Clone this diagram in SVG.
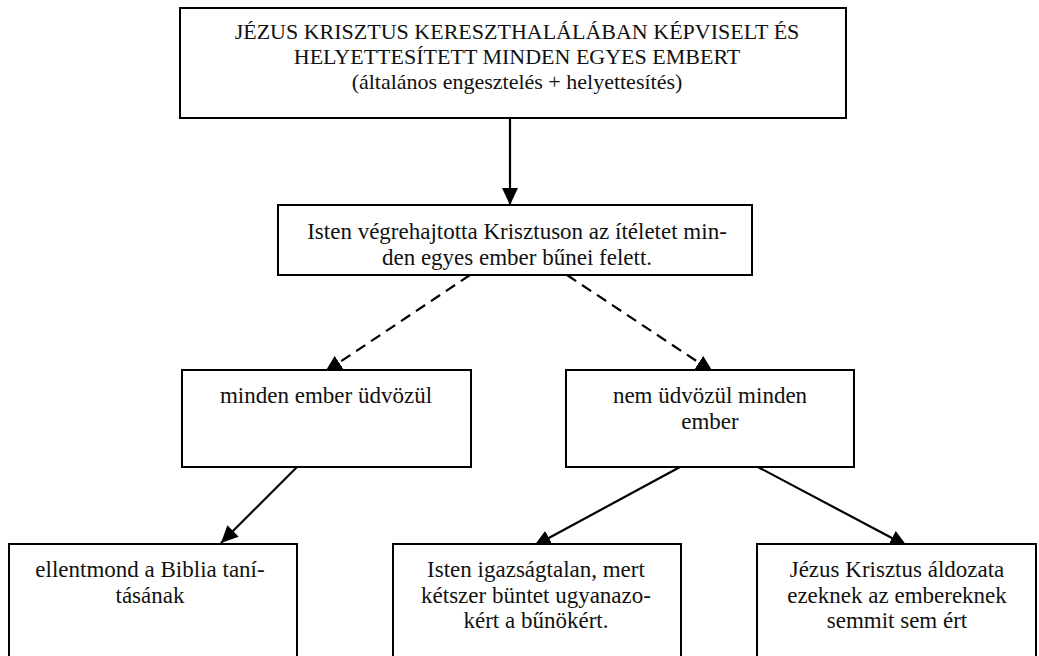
<svg xmlns="http://www.w3.org/2000/svg" width="1039" height="656" viewBox="0 0 1039 656">
<style>
.box{fill:#fff;stroke:#000;stroke-width:2}
.t{font-family:"Liberation Serif","Times New Roman",serif;font-size:23px;fill:#111;text-anchor:middle}
.th{font-size:22px}
.c{fill:none;stroke:#000;stroke-width:2.2}
.d{stroke-dasharray:11 7}
</style>
<defs>
<marker id="ah" markerUnits="userSpaceOnUse" markerWidth="18" markerHeight="16" refX="17" refY="8" orient="auto">
<path d="M0,0 L17,8 L0,16 Z" fill="#000"/>
</marker>
</defs>
<rect width="1039" height="656" fill="#fff"/>
<g id="connectors">
<line class="c" x1="510" y1="118" x2="510" y2="205" marker-end="url(#ah)"/>
<line class="c d" x1="470" y1="275" x2="325" y2="372" marker-end="url(#ah)"/>
<line class="c d" x1="567" y1="275" x2="713" y2="372" marker-end="url(#ah)"/>
<line class="c" x1="297" y1="467" x2="221" y2="543" marker-end="url(#ah)"/>
<line class="c" x1="680" y1="467" x2="534" y2="546" marker-end="url(#ah)"/>
<line class="c" x1="758" y1="467" x2="907" y2="546" marker-end="url(#ah)"/>
</g>
<g id="n-top">
<rect class="box" x="180" y="8" width="666" height="110"/>
<text class="t th" x="517" y="39">JÉZUS KRISZTUS KERESZTHALÁLÁBAN KÉPVISELT ÉS</text>
<text class="t th" x="517" y="64">HELYETTESÍTETT MINDEN EGYES EMBERT</text>
<text class="t th" x="517" y="89">(általános engesztelés + helyettesítés)</text>
</g>
<g id="n-mid">
<rect class="box" x="278" y="205" width="474" height="70"/>
<text class="t" x="517" y="239">Isten végrehajtotta Krisztuson az ítéletet min-</text>
<text class="t" x="517" y="265">den egyes ember bűnei felett.</text>
</g>
<g id="n-all">
<rect class="box" x="182" y="370" width="289" height="97"/>
<text class="t" x="326" y="403">minden ember üdvözül</text>
</g>
<g id="n-notall">
<rect class="box" x="566" y="370" width="288" height="97"/>
<text class="t" x="710" y="403">nem üdvözül minden</text>
<text class="t" x="710" y="429">ember</text>
</g>
<g id="n-bible">
<rect class="box" x="9" y="544" width="288" height="130"/>
<text class="t" x="150" y="577">ellentmond a Biblia taní-</text>
<text class="t" x="150" y="603">tásának</text>
</g>
<g id="n-unjust">
<rect class="box" x="393" y="544" width="288" height="130"/>
<text class="t" x="536" y="577">Isten igazságtalan, mert</text>
<text class="t" x="536" y="603">kétszer büntet ugyanazo-</text>
<text class="t" x="536" y="628">kért a bűnökért.</text>
</g>
<g id="n-worthless">
<rect class="box" x="757" y="544" width="279" height="130"/>
<text class="t" x="897" y="577">Jézus Krisztus áldozata</text>
<text class="t" x="897" y="603">ezeknek az embereknek</text>
<text class="t" x="897" y="628">semmit sem ért</text>
</g>
</svg>
